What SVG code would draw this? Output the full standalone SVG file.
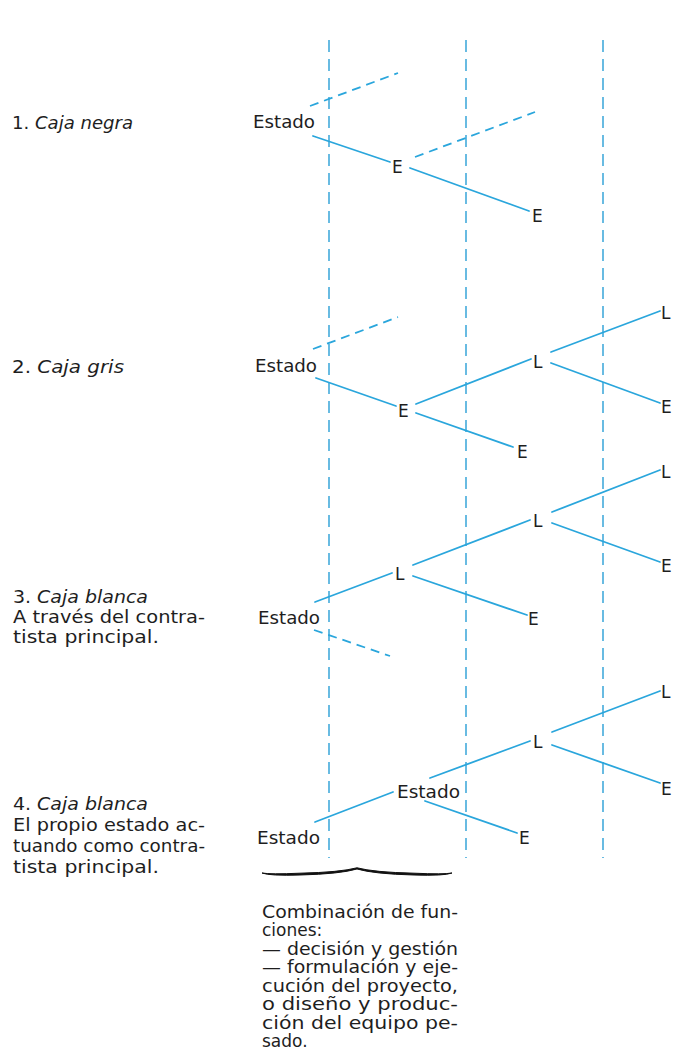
<svg xmlns="http://www.w3.org/2000/svg" width="674" height="1060" viewBox="0 0 674 1060">
<style>
.bg{fill:#ffffff}
.v{stroke:#2a9fd6;stroke-width:1.4;stroke-dasharray:12 7;fill:none}
.s{stroke:#2aa6dc;stroke-width:1.8;fill:none;stroke-linecap:round}
.d{stroke:#2aa6dc;stroke-width:1.8;fill:none;stroke-dasharray:9 6}
.lab{font-family:"DejaVu Sans","Liberation Sans",sans-serif;font-size:17px;fill:#1e1e1e}
.t{font-family:"DejaVu Sans","Liberation Sans",sans-serif;font-size:17px;fill:#1e1e1e}
.i{font-style:italic}
.brace{fill:#111;stroke:#111;stroke-width:1;stroke-linejoin:round}
</style>
<rect class="bg" x="0" y="0" width="674" height="1060"/>
<g id="columns">
<line class="v" x1="329" y1="40" x2="329" y2="858"/>
<line class="v" x1="466" y1="40" x2="466" y2="858"/>
<line class="v" x1="603" y1="40" x2="603" y2="858"/>
</g>
<g id="captions">
<text class="t" x="12" y="129" textLength="121" lengthAdjust="spacingAndGlyphs">1.  <tspan class="i">Caja negra</tspan></text>
<text class="t" x="12" y="373" textLength="112" lengthAdjust="spacingAndGlyphs">2.  <tspan class="i">Caja gris</tspan></text>
<text class="t" x="13" y="603" textLength="135" lengthAdjust="spacingAndGlyphs">3.  <tspan class="i">Caja blanca</tspan></text>
<text class="t" x="13" y="623" textLength="192" lengthAdjust="spacingAndGlyphs">A través del contra-</text>
<text class="t" x="13" y="643" textLength="146" lengthAdjust="spacingAndGlyphs">tista principal.</text>
<text class="t" x="13" y="810" textLength="135" lengthAdjust="spacingAndGlyphs">4.  <tspan class="i">Caja blanca</tspan></text>
<text class="t" x="13" y="831" textLength="192" lengthAdjust="spacingAndGlyphs">El propio estado ac-</text>
<text class="t" x="13" y="852" textLength="192" lengthAdjust="spacingAndGlyphs">tuando como contra-</text>
<text class="t" x="13" y="873" textLength="146" lengthAdjust="spacingAndGlyphs">tista principal.</text>
</g>
<g id="connectors">
<line class="d" x1="310" y1="106" x2="398" y2="73"/>
<line class="s" x1="313" y1="136" x2="390" y2="162"/>
<line class="d" x1="415" y1="157" x2="535" y2="112"/>
<line class="s" x1="410" y1="168" x2="529" y2="211"/>
<line class="d" x1="313" y1="349" x2="398" y2="317"/>
<line class="s" x1="316" y1="378" x2="396" y2="406"/>
<line class="s" x1="416" y1="404" x2="531" y2="359"/>
<line class="s" x1="416" y1="413" x2="513" y2="447"/>
<line class="s" x1="551" y1="352" x2="660" y2="311"/>
<line class="s" x1="551" y1="363" x2="660" y2="403"/>
<line class="s" x1="552" y1="512" x2="660" y2="470"/>
<line class="s" x1="552" y1="523" x2="660" y2="562"/>
<line class="s" x1="413" y1="565" x2="530" y2="520"/>
<line class="s" x1="413" y1="576" x2="527" y2="615"/>
<line class="s" x1="315" y1="602" x2="392" y2="573"/>
<line class="d" x1="314" y1="630" x2="390" y2="656"/>
<line class="s" x1="552" y1="732" x2="660" y2="691"/>
<line class="s" x1="552" y1="745" x2="660" y2="783"/>
<line class="s" x1="430" y1="778" x2="530" y2="741"/>
<line class="s" x1="425" y1="801" x2="517" y2="833"/>
<line class="s" x1="315" y1="822" x2="393" y2="792"/>
</g>
<g id="n1-estado"><text class="lab" x="253" y="128" textLength="62" lengthAdjust="spacingAndGlyphs">Estado</text></g>
<g id="n1-e1"><text class="lab" x="392" y="173">E</text></g>
<g id="n1-e2"><text class="lab" x="532" y="222">E</text></g>
<g id="n2-estado"><text class="lab" x="255" y="372" textLength="62" lengthAdjust="spacingAndGlyphs">Estado</text></g>
<g id="n2-e1"><text class="lab" x="398" y="417">E</text></g>
<g id="n2-l1"><text class="lab" x="533" y="368">L</text></g>
<g id="n2-e2"><text class="lab" x="517" y="458">E</text></g>
<g id="n2-l2"><text class="lab" x="661" y="319">L</text></g>
<g id="n2-e3"><text class="lab" x="661" y="413">E</text></g>
<g id="n3-l3"><text class="lab" x="661" y="478">L</text></g>
<g id="n3-l2"><text class="lab" x="533" y="527">L</text></g>
<g id="n3-e3"><text class="lab" x="661" y="572">E</text></g>
<g id="n3-l1"><text class="lab" x="395" y="580">L</text></g>
<g id="n3-e2"><text class="lab" x="528" y="625">E</text></g>
<g id="n3-estado"><text class="lab" x="258" y="624" textLength="62" lengthAdjust="spacingAndGlyphs">Estado</text></g>
<g id="n4-l2"><text class="lab" x="661" y="698">L</text></g>
<g id="n4-l1"><text class="lab" x="533" y="748">L</text></g>
<g id="n4-e2"><text class="lab" x="661" y="795">E</text></g>
<g id="n4-estado2"><text class="lab" x="397" y="798" textLength="63" lengthAdjust="spacingAndGlyphs">Estado</text></g>
<g id="n4-e1"><text class="lab" x="519" y="844">E</text></g>
<g id="n4-estado1"><text class="lab" x="257" y="844" textLength="63" lengthAdjust="spacingAndGlyphs">Estado</text></g>
<g id="brace">
<path class="brace" d="M262,873 Q270,876 300,875 Q340,874 357,869 Q374,874 414,875 Q444,876 452,873 Q444,874.5 414,873.2 Q374,872.3 357,867.8 Q340,872.3 300,873.2 Q270,874.5 262,873 Z"/>
</g>
<g id="note">
<text class="t" x="262" y="918" textLength="196" lengthAdjust="spacingAndGlyphs">Combinación de fun-</text>
<text class="t" x="262" y="936">ciones:</text>
<text class="t" x="262" y="955" textLength="196" lengthAdjust="spacingAndGlyphs">— decisión y gestión</text>
<text class="t" x="262" y="973" textLength="196" lengthAdjust="spacingAndGlyphs">— formulación y eje-</text>
<text class="t" x="262" y="992" textLength="196" lengthAdjust="spacingAndGlyphs">cución del proyecto,</text>
<text class="t" x="262" y="1010" textLength="196" lengthAdjust="spacingAndGlyphs">o diseño y produc-</text>
<text class="t" x="262" y="1029" textLength="196" lengthAdjust="spacingAndGlyphs">ción del equipo pe-</text>
<text class="t" x="262" y="1047">sado.</text>
</g>
</svg>
